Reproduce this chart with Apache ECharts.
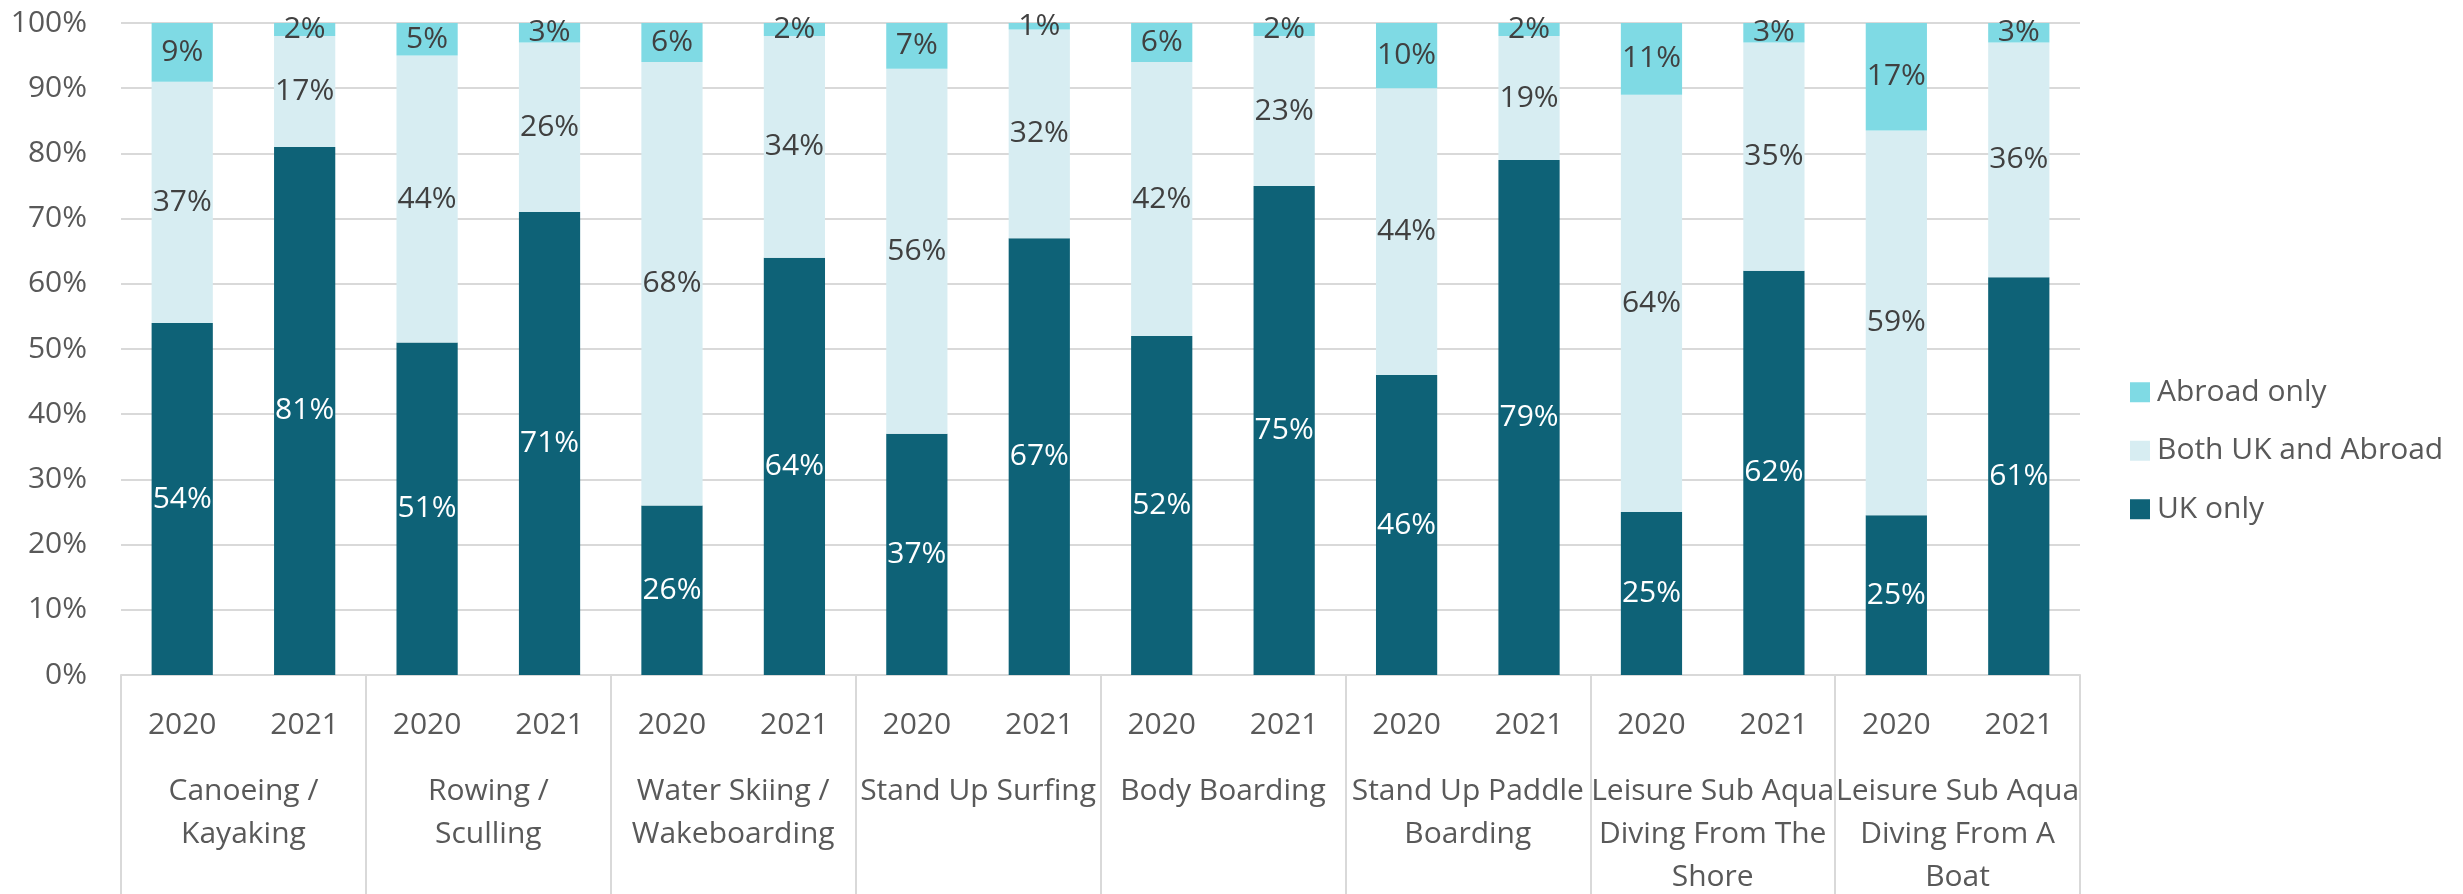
<!DOCTYPE html>
<html>
<head>
<meta charset="utf-8">
<script src="https://cdn.jsdelivr.net/npm/echarts@6/dist/echarts.min.js"></script>
<style>
html,body{margin:0;padding:0;background:#fff;}
#chart{width:2463px;height:894px;}
</style>
</head>
<body>
<div id="chart"></div>
<script>
// ---- data ----
const groups = [
  "Canoeing /\nKayaking",
  "Rowing /\nSculling",
  "Water Skiing /\nWakeboarding",
  "Stand Up Surfing",
  "Body Boarding",
  "Stand Up Paddle\nBoarding",
  "Leisure Sub Aqua\nDiving From The\nShore",
  "Leisure Sub Aqua\nDiving From A\nBoat"
];
const years = ["2020", "2021"];
const seriesNames = ["UK only", "Both UK and Abroad", "Abroad only"];
const ukOnly = [54, 81, 51, 71, 26, 64, 37, 67, 52, 75, 46, 79, 25, 62, 24.5, 61];
const bothUKAbroad = [37, 17, 44, 26, 68, 34, 56, 32, 42, 23, 44, 19, 64, 35, 59, 36];
const abroadOnly = [9, 2, 5, 3, 6, 2, 7, 1, 6, 2, 10, 2, 11, 3, 16.5, 3];
const yTicks = [0, 10, 20, 30, 40, 50, 60, 70, 80, 90, 100];

// ---- chart ----
const yearCats = [];
groups.forEach(() => years.forEach(y => yearCats.push(y)));

const FONT = "'Open Sans', 'Noto Sans', sans-serif";
const FS = 30;
const TXT = "#595959";
const GRID = "#D9D9D9";
const colors = ["#0E6277", "#D7EDF2", "#7FDAE4"];
const labelColors = ["#FFFFFF", "#404040", "#404040"];
const values = [ukOnly, bothUKAbroad, abroadOnly];

const chart = echarts.init(document.getElementById("chart"), null, {renderer: "canvas"});
chart.setOption({
  animation: false,
  backgroundColor: "#FFFFFF",
  textStyle: {fontFamily: FONT},
  grid: {left: 121, right: 383, top: 23, bottom: 219, containLabel: false, outerBoundsMode: "none"},
  legend: {
    orient: "vertical",
    left: 2125,
    top: 368,
    itemWidth: 20,
    itemHeight: 20,
    itemGap: 20,
    icon: "rect",
    data: ["Abroad only", "Both UK and Abroad", "UK only"],
    textStyle: {color: TXT, fontSize: FS, fontFamily: FONT, lineHeight: 38.5, padding: [0, 0, 0, 2]}
  },
  xAxis: [
    {
      type: "category",
      data: yearCats,
      position: "bottom",
      axisLine: {show: true, lineStyle: {color: GRID, width: 2}},
      axisTick: {show: false},
      axisLabel: {color: TXT, fontSize: FS, fontFamily: FONT, margin: 32, lineHeight: 36, interval: 0}
    },
    {
      type: "category",
      data: groups,
      position: "bottom",
      offset: 0,
      axisLine: {show: false},
      axisTick: {show: true, length: 219, lineStyle: {color: GRID, width: 2}},
      axisLabel: {color: TXT, fontSize: FS, fontFamily: FONT, margin: 95, lineHeight: 43, interval: 0, align: "center"},
      splitLine: {show: false}
    }
  ],
  yAxis: {
    type: "value",
    min: 0,
    max: 100,
    interval: 10,
    axisLine: {show: false},
    axisTick: {show: false},
    axisLabel: {color: TXT, fontSize: FS, fontFamily: FONT, margin: 34, formatter: v => yTicks.includes(v) ? v + "%" : ""},
    splitLine: {show: true, lineStyle: {color: GRID, width: 2}}
  },
  series: seriesNames.map((name, i) => ({
    name: name,
    type: "bar",
    stack: "total",
    xAxisIndex: 0,
    barWidth: "50%",
    data: values[i],
    itemStyle: {color: colors[i]},
    label: {
      show: true,
      position: "inside",
      color: labelColors[i],
      fontSize: FS,
      fontFamily: FONT,
      formatter: p => Math.round(p.value) + "%"
    }
  }))
});
</script>
</body>
</html>
